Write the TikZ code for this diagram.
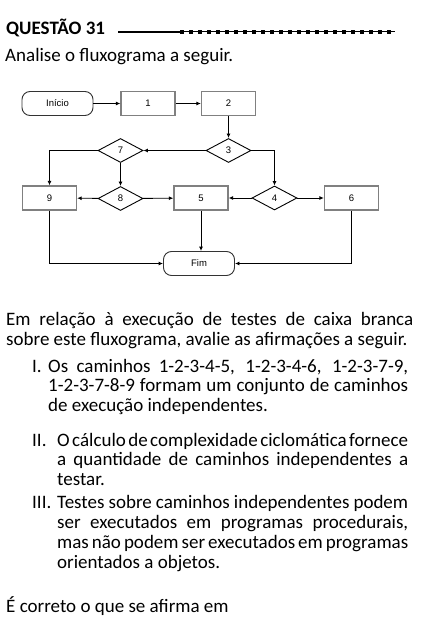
\documentclass[tikz,border=0pt]{standalone}
\usepackage{fontspec}
\setmainfont{Carlito}
\newfontfamily\flowfont{Liberation Sans}
\usetikzlibrary{arrows.meta,shapes.geometric}
\newcommand\jl[2]{\hbox to #1bp{\spaceskip=0pt plus 1fil\xspaceskip=0pt plus 1fil\relax #2}}
\tikzset{
  txt/.style={font=\fontsize{19bp}{20bp}\selectfont, inner sep=0pt, anchor=base west},
  boxn/.style={draw=black!50, line width=1.3bp, minimum width=54bp, minimum height=24bp, inner sep=0pt, font=\flowfont\fontsize{9.5bp}{10bp}\selectfont},
  termn/.style={draw=black!80, line width=0.9bp, rounded corners=8bp, minimum width=71bp, minimum height=24bp, inner sep=0pt, font=\flowfont\fontsize{9.5bp}{10bp}\selectfont},
  dian/.style={draw=black, line width=0.9bp, diamond, minimum width=45bp, minimum height=24bp, inner sep=0pt, font=\flowfont\fontsize{9.5bp}{10bp}\selectfont},
  conn/.style={draw=black, line width=0.9bp, -{Latex[length=4.5bp,width=4bp]}},
}
\begin{document}
\begin{tikzpicture}[x=1bp,y=-1bp]
\useasboundingbox[fill=white] (0,0) rectangle (426,620);
% title
\node[txt, font=\fontsize{19bp}{20bp}\selectfont\bfseries] (title) at (6,35) {QUESTÃO 31};
\coordinate (ta) at (118,32);
\coordinate (tb) at (180,32);
\coordinate (tc) at (395,32);
\draw[line width=2bp] (ta) -- (tb);
\draw[line width=1bp] (tb) -- (tc);
\draw[line width=3.5bp, dash pattern=on 3.5bp off 5.5bp] (tb) -- (tc);
\node[txt] (intro) at (5,62) {Analise o fluxograma a seguir.};
% flowchart
\node[termn] (ini) at (57.5,103.5) {Início};
\node[boxn] (b1) at (148,103.5) {1};
\node[boxn] (b2) at (228.5,103.5) {2};
\node[dian] (d3) at (228.5,150.5) {3};
\node[dian] (d7) at (120.5,150.5) {7};
\node[boxn] (b9) at (49.5,198) {9};
\node[dian] (d8) at (120.5,198.5) {8};
\node[boxn] (b5) at (201,198) {5};
\node[dian] (d4) at (274.5,198) {4};
\node[boxn] (b6) at (351.5,198) {6};
\node[termn] (fim) at (199,263.5) {Fim};
\draw[conn] (ini) -- (b1);
\draw[conn] (b1) -- (b2);
\draw[conn] (b2) -- (d3);
\draw[conn] (d3) -- (d7);
\draw[conn] (d3.east) -| (d4.north);
\draw[conn] (d7.west) -| (b9.north);
\draw[conn] (d7) -- (d8);
\draw[conn] (d8) -- (b9);
\draw[conn] (d8) -- (b5);
\draw[conn] (d4) -- (b5);
\draw[conn] (d4) -- (b6);
\draw[conn] (b9.south) |- (fim.west);
\draw[conn] (b6.south) |- (fim.east);
\draw[conn] (b5.south) -- (b5.south |- fim.north);
% text
\node[txt] (p1) at (6,325) {\jl{407}{Em relação à execução de testes de caixa branca}};
\node[txt] (p2) at (6,345) {sobre este fluxograma, avalie as afirmações a seguir.};
\node[txt] (i1) at (32,372) {I.};
\node[txt] (i1a) at (48,372) {\jl{360}{Os caminhos 1-2-3-4-5, 1-2-3-4-6, 1-2-3-7-9,}};
\node[txt] (i1b) at (48,391) {\jl{360}{1-2-3-7-8-9 formam um conjunto de caminhos}};
\node[txt] (i1c) at (48,411) {de execução independentes.};
\node[txt] (i2) at (32,446) {II.};
\node[txt] (i2a) at (57,446) {\jl{351}{O cálculo de complexidade ciclomática fornece}};
\node[txt] (i2b) at (57,465) {\jl{351}{a quantidade de caminhos independentes a}};
\node[txt] (i2c) at (57,485) {testar.};
\node[txt] (i3) at (32,508) {III.};
\node[txt] (i3a) at (57,508) {\jl{351}{Testes sobre caminhos independentes podem}};
\node[txt] (i3b) at (57,528) {\jl{351}{ser executados em programas procedurais,}};
\node[txt] (i3c) at (57,548) {\jl{351}{mas não podem ser executados em programas}};
\node[txt] (i3d) at (57,568) {orientados a objetos.};
\node[txt] (q) at (6,612) {É correto o que se afirma em};
\end{tikzpicture}
\end{document}
